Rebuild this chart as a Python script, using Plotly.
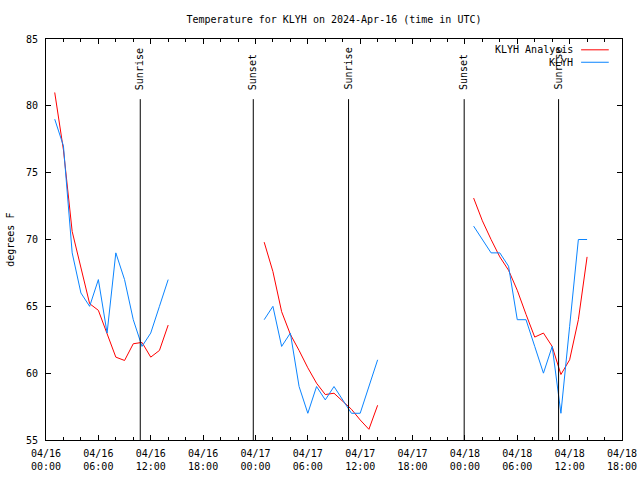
import plotly.graph_objects as go
import pandas as pd

# ---- data ----
series_names = ["KLYH Analysis", "KLYH"]
hours_day1 = list(range(1, 15))
hours_day2 = list(range(25, 39))
hours_day3 = list(range(49, 63))

analysis_day1 = [81.0, 76.7, 70.6, 67.9, 65.2, 64.7, 62.9, 61.2, 60.95, 62.2, 62.3, 61.2, 61.7, 63.6]
analysis_day2 = [69.8, 67.6, 64.6, 62.9, 61.7, 60.4, 59.25, 58.4, 58.5, 57.9, 57.3, 56.5, 55.8, 57.6]
analysis_day3 = [73.1, 71.4, 70.0, 68.7, 67.7, 66.2, 64.4, 62.7, 63.0, 62.0, 59.9, 61.0, 64.0, 68.7]

obs_day1 = [79, 77, 69, 66, 65, 67, 63, 69, 67, 64, 62, 63, 65, 67]
obs_day2 = [64, 65, 62, 63, 59, 57, 59, 58, 59, 58, 57, 57, 59, 61]
obs_day3 = [71, 70, 69, 69, 68, 64, 64, 62, 60, 62, 57, 63.5, 70, 70]

sun_labels = ["Sunrise", "Sunset", "Sunrise", "Sunset", "Sunrise"]
sun_times = ["2024-04-16 10:48", "2024-04-16 23:45", "2024-04-17 10:40",
             "2024-04-17 23:55", "2024-04-18 10:44"]

tick_times = ["2024-04-16 00:00", "2024-04-16 06:00", "2024-04-16 12:00", "2024-04-16 18:00",
              "2024-04-17 00:00", "2024-04-17 06:00", "2024-04-17 12:00", "2024-04-17 18:00",
              "2024-04-18 00:00", "2024-04-18 06:00", "2024-04-18 12:00", "2024-04-18 18:00"]
tick_labels = ["04/16<br>00:00", "04/16<br>06:00", "04/16<br>12:00", "04/16<br>18:00",
               "04/17<br>00:00", "04/17<br>06:00", "04/17<br>12:00", "04/17<br>18:00",
               "04/18<br>00:00", "04/18<br>06:00", "04/18<br>12:00", "04/18<br>18:00"]

title_text = "Temperature for KLYH on 2024-Apr-16 (time in UTC)"
y_title = "degrees F"

# ---- build ----
base = pd.Timestamp("2024-04-16 00:00")


def join_segments(hour_lists, value_lists):
    xs, ys = [], []
    for hrs, vals in zip(hour_lists, value_lists):
        if xs:
            xs.append(None)
            ys.append(None)
        xs += [(base + pd.Timedelta(hours=h)).strftime("%Y-%m-%d %H:%M") for h in hrs]
        ys += vals
    return xs, ys


hrs_all = [hours_day1, hours_day2, hours_day3]
xa, ya = join_segments(hrs_all, [analysis_day1, analysis_day2, analysis_day3])
xo, yo = join_segments(hrs_all, [obs_day1, obs_day2, obs_day3])

colors = ["#ff0000", "#0a84ff"]
font_family = "DejaVu Sans Mono"

fig = go.Figure()
fig.add_trace(go.Scatter(x=xa, y=ya, mode="lines", name=series_names[0],
                         line=dict(color=colors[0], width=1), connectgaps=False,
                         showlegend=False))
fig.add_trace(go.Scatter(x=xo, y=yo, mode="lines", name=series_names[1],
                         line=dict(color=colors[1], width=1), connectgaps=False,
                         showlegend=False))

shapes = []
annotations = []
for lab, t in zip(sun_labels, sun_times):
    shapes.append(dict(type="line", xref="x", yref="paper", x0=t, x1=t, y0=0, y1=0.85,
                       line=dict(color="black", width=1)))
    annotations.append(dict(x=t, y=0.868, xref="x", yref="paper", text=lab,
                            textangle=-90, showarrow=False, xanchor="center",
                            yanchor="bottom", font=dict(size=10, color="black",
                                                        family=font_family)))

# manual gnuplot-style legend (text left, sample right)
leg_rows = [0.973, 0.942]
for name, col, yy in zip(series_names, colors, leg_rows):
    annotations.append(dict(x=0.918, y=yy, xref="paper", yref="paper", text=name,
                            showarrow=False, xanchor="right", yanchor="middle",
                            font=dict(size=10, color="black", family=font_family)))
    shapes.append(dict(type="line", xref="paper", yref="paper", x0=0.929, x1=0.977,
                       y0=yy, y1=yy, line=dict(color=col, width=1)))

annotations.append(dict(x=-0.062, y=0.5, xref="paper", yref="paper", text=y_title,
                        textangle=-90, showarrow=False, xanchor="center",
                        yanchor="middle", font=dict(size=10, color="black",
                                                    family=font_family)))

fig.update_layout(
    width=640, height=480,
    margin=dict(l=46, r=18, t=39, b=40, autoexpand=False),
    paper_bgcolor="white", plot_bgcolor="white",
    font=dict(family=font_family, size=10, color="black"),
    title=dict(text=title_text, x=0.5, xref="paper", y=1 - 19 / 480, yref="container",
               xanchor="center", yanchor="middle",
               font=dict(size=10, family=font_family, color="black")),
    shapes=shapes, annotations=annotations,
    showlegend=False,
)
fig.update_xaxes(
    type="date", range=["2024-04-16 00:00", "2024-04-18 18:00"],
    tickvals=tick_times, ticktext=tick_labels, automargin=False,
    showgrid=False, zeroline=False,
    showline=True, linecolor="black", linewidth=1, mirror="ticks",
    ticks="inside", ticklen=5, tickcolor="black", ticklabelstandoff=4,
    minor=dict(ticks="inside", ticklen=3, dtick=2 * 3600 * 1000, tickcolor="black",
               showgrid=False),
    tickfont=dict(size=10, family=font_family),
)
fig.update_yaxes(
    range=[55, 85], dtick=5, tick0=55, automargin=False,
    showgrid=False, zeroline=False,
    showline=True, linecolor="black", linewidth=1, mirror="ticks",
    ticks="inside", ticklen=5, tickcolor="black", ticklabelstandoff=5,
    tickfont=dict(size=10, family=font_family),
)

fig.write_html("out.html", config={"displayModeBar": False},
               post_script="document.body.style.margin='0';document.body.style.overflow='hidden';")
